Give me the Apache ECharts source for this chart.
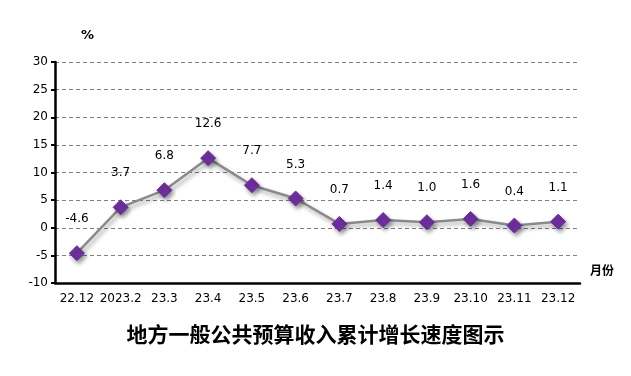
<!DOCTYPE html>
<html>
<head>
<meta charset="utf-8">
<script src="https://cdn.jsdelivr.net/npm/echarts@6/dist/echarts.min.js"></script>
<style>
  html, body { margin: 0; padding: 0; background: #fff; }
  #chart { width: 631px; height: 376px; }
</style>
</head>
<body>
<div id="chart"></div>
<script>
// 月份
var months = ['22.12', '2023.2', '23.3', '23.4', '23.5', '23.6', '23.7', '23.8', '23.9', '23.10', '23.11', '23.12']
// 累计增长速度 %
var growth = [-4.6, 3.7, 6.8, 12.6, 7.7, 5.3, 0.7, 1.4, 1.0, 1.6, 0.4, 1.1]
var yTicks = { min: -10, max: 30, step: 5 }

var chart = echarts.init(document.getElementById('chart'))
var tickFont = 'DejaVu Sans, Verdana, sans-serif'

chart.setOption({
  animation: false,
  grid: {
    left: 55,
    right: 51,
    top: 62,
    bottom: 93
  },
  title: [{
    text: '地方一般公共预算收入累计增长速度图示',
    left: 'center',
    top: 319,
    textStyle: {
      fontFamily: 'Noto Sans CJK SC',
      fontWeight: 'bold',
      fontSize: 21,
      color: '#000'
    }
  }, {
    text: '%',
    left: 76,
    top: 24,
    textStyle: { fontFamily: tickFont, fontSize: 13, fontWeight: 'bold', color: '#000' }
  }, {
    text: '月份',
    left: 585,
    top: 259,
    textStyle: { fontFamily: 'Noto Sans CJK SC', fontSize: 12, fontWeight: 'bold', color: '#000' }
  }],
  xAxis: {
    type: 'category',
    data: months,
    boundaryGap: true,
    axisLine: { onZero: false, lineStyle: { color: '#000', width: 2.5 } },
    axisTick: { show: false },
    axisLabel: { interval: 0, color: '#000', fontFamily: tickFont, fontSize: 12, margin: 10 }
  },
  yAxis: {
    type: 'value',
    min: yTicks.min,
    max: yTicks.max,
    interval: yTicks.step,
    axisLine: { show: true, lineStyle: { color: '#000', width: 2.5 } },
    axisTick: { show: true, length: 4, lineStyle: { color: '#000', width: 2 } },
    axisLabel: { color: '#000', fontFamily: tickFont, fontSize: 12, margin: 7 },
    splitLine: { lineStyle: { color: '#808080', type: [4, 3], width: 1 } }
  },
  series: [{
    type: 'line',
    data: growth,
    symbol: 'diamond',
    symbolSize: 15,
    lineStyle: {
      color: '#8a8a8a',
      width: 2.5,
      shadowColor: 'rgba(0,0,0,0.35)',
      shadowBlur: 4,
      shadowOffsetX: 2,
      shadowOffsetY: 3
    },
    itemStyle: {
      color: '#7030a0',
      borderColor: '#6a2c98',
      borderWidth: 1,
      shadowColor: 'rgba(0,0,0,0.4)',
      shadowBlur: 4,
      shadowOffsetX: 2,
      shadowOffsetY: 3
    },
    label: {
      show: true,
      position: 'top',
      distance: 20,
      color: '#000',
      fontFamily: tickFont,
      fontSize: 12,
      formatter: function (p) { return p.value.toFixed(1) }
    }
  }]
})
</script>
</body>
</html>
